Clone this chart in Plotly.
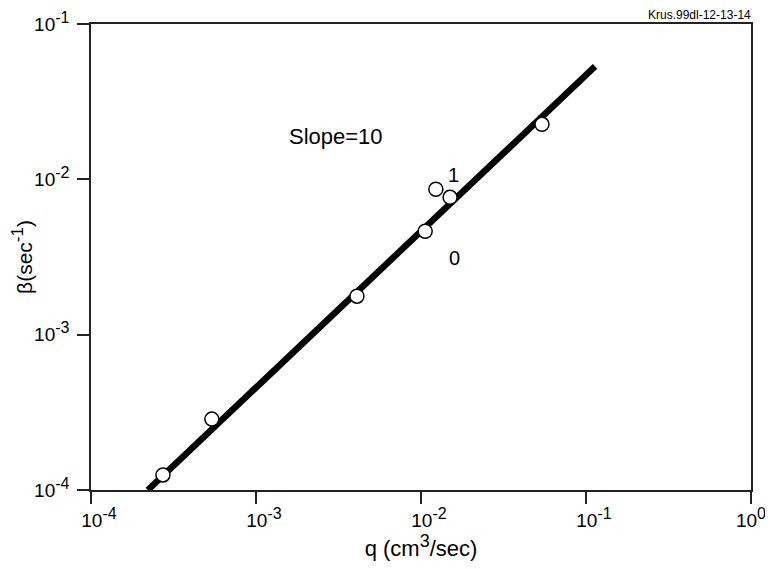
import plotly.graph_objects as go

q_vals = [2.73e-4, 5.4e-4, 4.09e-3, 1.06e-2, 1.23e-2, 1.50e-2, 5.41e-2]
beta_vals = [1.25e-4, 2.86e-4, 1.77e-3, 4.63e-3, 8.63e-3, 7.66e-3, 2.26e-2]
fit_q = [2.21e-4, 0.1135]
fit_beta = [1.0e-4, 0.0533]
x_tickvals = [1e-4, 1e-3, 1e-2, 1e-1, 1e0]
x_exponents = ["-4", "-3", "-2", "-1", "0"]
y_tickvals = [1e-4, 1e-3, 1e-2, 1e-1]
y_exponents = ["-4", "-3", "-2", "-1"]

font = "Liberation Sans, Arial, Helvetica, sans-serif"
NB = "\u00a0"
SUP = '<sup><span style="font-size:16px">{}</span></sup>'

x_ticktext = [(NB * (3 if len(e) > 1 else 0)) + "10" + SUP.format(e) for e in x_exponents]
y_ticktext = ["10" + SUP.format(e) for e in y_exponents]

fig = go.Figure()
fig.add_trace(go.Scatter(x=fit_q, y=fit_beta, mode="lines",
                         line=dict(color="black", width=6.5), showlegend=False))
fig.add_trace(go.Scatter(x=q_vals, y=beta_vals, mode="markers",
                         marker=dict(symbol="circle", size=14, color="white",
                                     line=dict(color="black", width=1.5)),
                         showlegend=False))

fig.add_annotation(x=-2.515, y=-1.723, xref="x", yref="y", text="Slope=10",
                   showarrow=False, font=dict(size=22, color="black", family=font))
fig.add_annotation(x=-1.806, y=-1.974, xref="x", yref="y", text="1",
                   showarrow=False, font=dict(size=20, color="black", family=font))
fig.add_annotation(x=-1.794, y=-2.508, xref="x", yref="y", text="0",
                   showarrow=False, font=dict(size=20, color="black", family=font))
fig.add_annotation(x=1.0, y=1.0, xref="paper", yref="paper", xanchor="right",
                   yanchor="bottom", yshift=0, xshift=2, text="Krus.99dl-12-13-14",
                   showarrow=False, font=dict(size=12, color="black", family=font))

axis_common = dict(showgrid=False, zeroline=False, showline=True, linecolor="#222",
                   linewidth=1.5, mirror=True, ticks="outside", ticklen=12,
                   tickwidth=1.5, tickcolor="#222", automargin=False,
                   ticklabeloverflow="allow",
                   tickfont=dict(size=19, color="black", family=font))

fig.update_xaxes(type="log", range=[-4, 0], tickvals=x_tickvals, ticktext=x_ticktext,
                 title=dict(text='q (cm<sup><span style="font-size:18px">3</span></sup>/sec)',
                            font=dict(size=22, color="black", family=font), standoff=7),
                 **axis_common)
fig.update_yaxes(type="log", range=[-4, -1], tickvals=y_tickvals, ticktext=y_ticktext,
                 ticklabelstandoff=4,
                 title=dict(text='β(sec<sup><span style="font-size:17px">-1</span></sup>)',
                            font=dict(size=21, color="black", family=font), standoff=3),
                 **axis_common)

fig.update_layout(width=773, height=561, plot_bgcolor="white", paper_bgcolor="white",
                  margin=dict(l=83, r=30, t=16, b=79),
                  font=dict(family=font, color="black"))

fig.write_html("out.html")
